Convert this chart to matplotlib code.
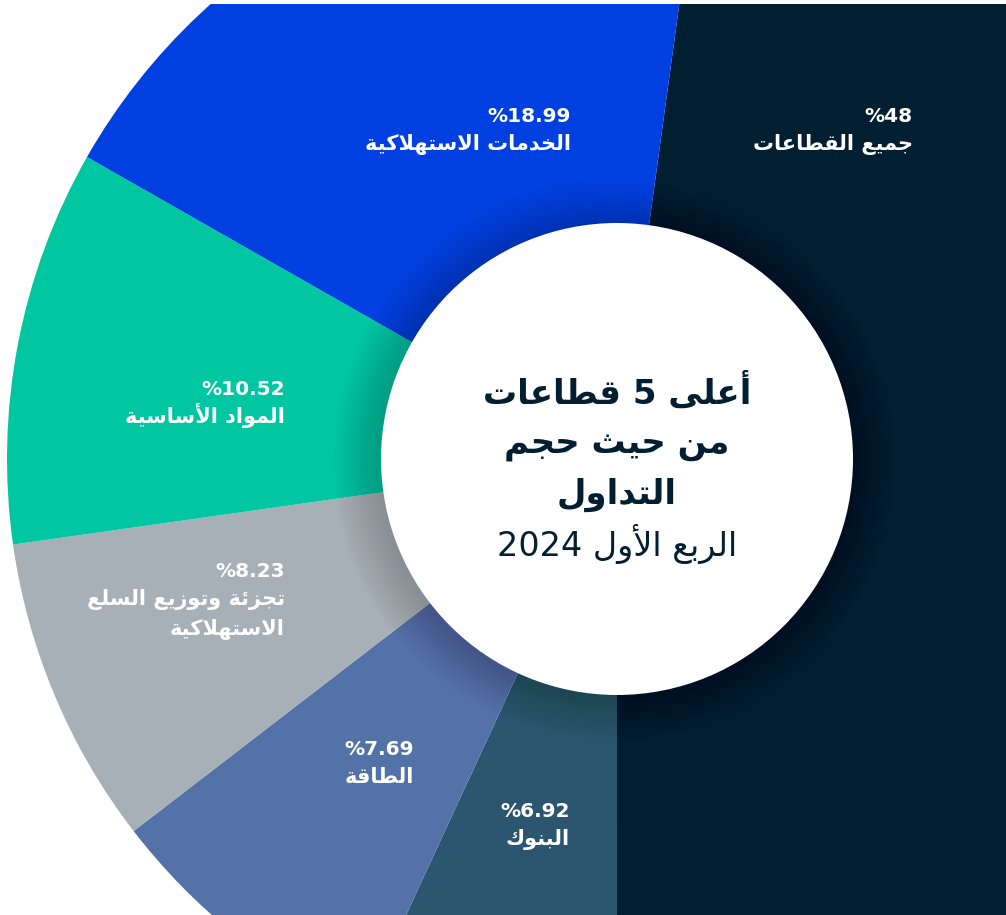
import re
import matplotlib.pyplot as plt
from matplotlib.patches import Circle, Rectangle

# Data (clockwise from the top)
sectors = ['جميع القطاعات', 'البنوك', 'الطاقة',
           'تجزئة وتوزيع السلع\nالاستهلاكية', 'المواد الأساسية',
           'الخدمات الاستهلاكية']
shares = [48, 6.92, 7.69, 8.23, 10.52, 18.99]
colors = ['#021e31', '#2c5570', '#5373a8', '#a7afb7', '#00c7a1', '#0040e0']

title_lines = ['أعلى 5 قطاعات', 'من حيث حجم', 'التداول']
subtitle = 'الربع الأول 2024'

# label anchors: right edge x, baseline y of the percent line (image pixels)
label_pos = [(913, 122), (570, 817), (414, 755), (285, 577), (285, 395), (571, 122)]

W, H = 1006, 915
CX, CY = 617, 459


# ---------------------------------------------------------------
# Minimal Arabic shaping (matplotlib has no complex text layout)
_BASE = [('ء', 0xFE80, 1), ('آ', 0xFE81, 2), ('أ', 0xFE83, 2), ('ؤ', 0xFE85, 2),
         ('إ', 0xFE87, 2), ('ئ', 0xFE89, 4), ('ا', 0xFE8D, 2), ('ب', 0xFE8F, 4),
         ('ة', 0xFE93, 2), ('ت', 0xFE95, 4), ('ث', 0xFE99, 4), ('ج', 0xFE9D, 4),
         ('ح', 0xFEA1, 4), ('خ', 0xFEA5, 4), ('د', 0xFEA9, 2), ('ذ', 0xFEAB, 2),
         ('ر', 0xFEAD, 2), ('ز', 0xFEAF, 2), ('س', 0xFEB1, 4), ('ش', 0xFEB5, 4),
         ('ص', 0xFEB9, 4), ('ض', 0xFEBD, 4), ('ط', 0xFEC1, 4), ('ظ', 0xFEC5, 4),
         ('ع', 0xFEC9, 4), ('غ', 0xFECD, 4), ('ف', 0xFED1, 4), ('ق', 0xFED5, 4),
         ('ك', 0xFED9, 4), ('ل', 0xFEDD, 4), ('م', 0xFEE1, 4), ('ن', 0xFEE5, 4),
         ('ه', 0xFEE9, 4), ('و', 0xFEED, 2), ('ى', 0xFEEF, 2), ('ي', 0xFEF1, 4)]
FORMS = {c: [chr(s + k) for k in range(n)] for c, s, n in _BASE}
LAM_ALEF = {'آ': 0xFEF5, 'أ': 0xFEF7, 'إ': 0xFEF9, 'ا': 0xFEFB}


def shape(text):
    items = []
    i = 0
    while i < len(text):
        c = text[i]
        if c == 'ل' and i + 1 < len(text) and text[i + 1] in LAM_ALEF:
            items.append(('la', text[i + 1]))
            i += 2
        else:
            items.append(('ch', c))
            i += 1

    def joins_left(it):
        return it[0] == 'ch' and it[1] in FORMS and len(FORMS[it[1]]) == 4

    def is_ar(it):
        return it[0] == 'la' or it[1] in FORMS

    out = []
    for k, it in enumerate(items):
        prev = items[k - 1] if k > 0 else None
        nxt = items[k + 1] if k + 1 < len(items) else None
        jp = prev is not None and joins_left(prev)
        if it[0] == 'la':
            code = LAM_ALEF[it[1]]
            out.append(chr(code + 1 if jp else code))
            continue
        c = it[1]
        if c not in FORMS:
            out.append(c)
            continue
        f = FORMS[c]
        jn = len(f) == 4 and nxt is not None and is_ar(nxt)
        if len(f) == 1:
            out.append(f[0])
        elif jp and jn:
            out.append(f[3])
        elif jp:
            out.append(f[1])
        elif jn:
            out.append(f[2])
        else:
            out.append(f[0])
    return ''.join(out)


def rtl(line):
    parts = re.findall(r'\d[\d.,%]*|[^\d]+', shape(line))
    return ''.join(p if p[0].isdigit() else p[::-1] for p in reversed(parts))


def Y(y):
    return H - y


# ---------------------------------------------------------------
plt.rcParams['font.family'] = ['DejaVu Sans']
fig = plt.figure(figsize=(W / 100, H / 100), dpi=100)
ax = fig.add_axes([0, 0, 1, 1])

start = 90 - 7.8
ax.pie(shares, colors=colors, startangle=start, counterclock=False,
       radius=610, center=(CX, Y(CY)), frame=True,
       wedgeprops=dict(linewidth=0, antialiased=True))

# soft shadow around the centre disc
for k in range(1, 16):
    ax.add_patch(Circle((CX - 2, Y(CY) - 2), 236 + k * 3, facecolor='black',
                        edgecolor='none', alpha=0.011, zorder=2))
ax.add_patch(Circle((CX, Y(CY)), 236, facecolor='white', edgecolor='none', zorder=3))

# thin white strip along the top edge
ax.add_patch(Rectangle((0, Y(4)), W, 10, facecolor='white', edgecolor='none', zorder=5))

# sector labels
for name, v, (x, y) in zip(sectors, shares, label_pos):
    ax.text(x, Y(y), f'%{v:g}', ha='right', va='baseline', color='white',
            fontsize=14.5, fontweight='bold', zorder=6)
    for j, ln in enumerate(name.split('\n')):
        ax.text(x, Y(y + 28 + j * 30), rtl(ln), ha='right', va='baseline',
                color='white', fontsize=15, fontweight='bold', zorder=6)

# centre title
for j, ln in enumerate(title_lines):
    ax.text(CX, Y(404 + j * 50), rtl(ln), ha='center', va='baseline',
            color='#021e31', fontsize=24.5, fontweight='bold', zorder=6)
ax.text(CX, Y(556), rtl(subtitle), ha='center', va='baseline',
        color='#021e31', fontsize=24, zorder=6)

ax.set_xlim(0, W)
ax.set_ylim(0, H)
ax.axis('off')

plt.savefig('out.png', dpi=100)
plt.close()
